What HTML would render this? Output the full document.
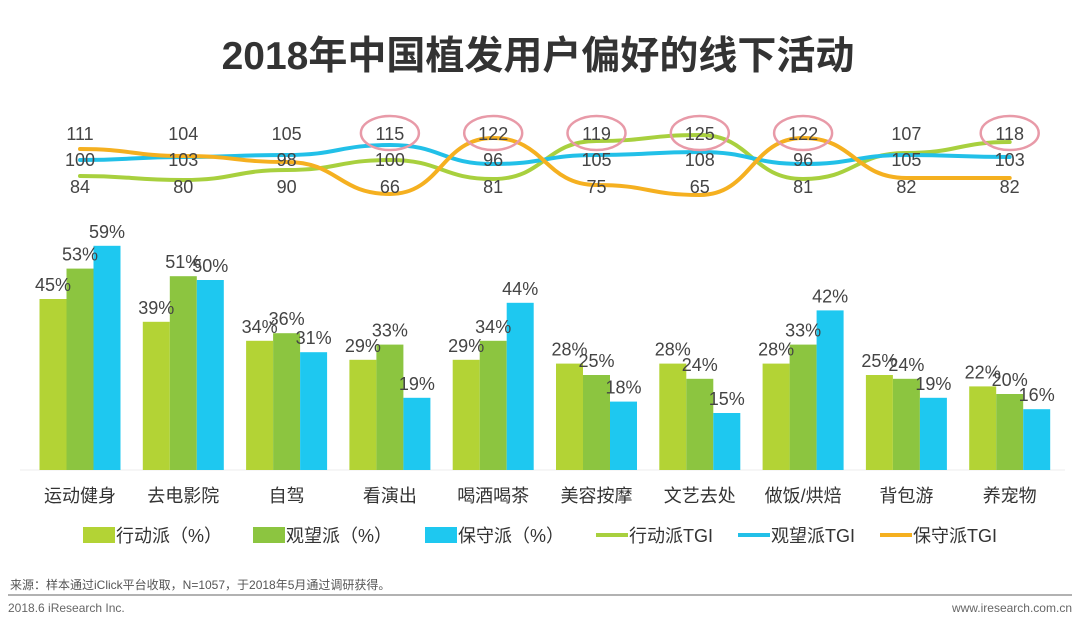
<!DOCTYPE html>
<html><head><meta charset="utf-8">
<style>
body{margin:0;background:#fff;}
svg{display:block;font-family:"Liberation Sans","Noto Sans CJK SC",sans-serif;}
</style></head>
<body>
<svg id="chart" width="1080" height="624" viewBox="0 0 1080 624">
<text x="538" y="69" text-anchor="middle" font-size="39" font-weight="bold" fill="#333">2018年中国植发用户偏好的线下活动</text>
<g id="bars"></g><g id="lines"></g><g id="labels"></g>
<g id="legend"></g>
<text x="10" y="589" font-size="12" fill="#555">来源：样本通过iClick平台收取，N=1057，于2018年5月通过调研获得。</text>
<line x1="8" y1="595" x2="1072" y2="595" stroke="#999" stroke-width="1.5"/>
<text x="8" y="612" font-size="12" fill="#666">2018.6 iResearch Inc.</text>
<text x="1072" y="612" font-size="12" fill="#666" text-anchor="end">www.iresearch.com.cn</text>
</svg>
<script>
const categories=["运动健身","去电影院","自驾","看演出","喝酒喝茶","美容按摩","文艺去处","做饭/烘焙","背包游","养宠物"];
const actionPct=[45,39,34,29,29,28,28,28,25,22];
const watchPct=[53,51,36,33,34,25,24,33,24,20];
const conservPct=[59,50,31,19,44,18,15,42,19,16];
const actionTGI=[84,80,90,100,81,119,125,81,107,118];
const watchTGI=[100,103,105,115,96,105,108,96,105,103];
const conservTGI=[111,104,98,66,122,75,65,122,82,82];
const highlighted=[[3,115],[4,122],[5,119],[6,125],[7,122],[9,118]];

const NS="http://www.w3.org/2000/svg";
const base=470, pxPerPct=3.8, bw=27;
const cx=i=>80+i*103.3;
const yBar=v=>base-v*pxPerPct;
const yTGI=v=>260-v;
const colors=["#b3d335","#8cc540","#1ec8f0"];
const lineColors=["#a8d03e","#22c0e8","#f5b020"];
function mk(tag,attrs,parent){const e=document.createElementNS(NS,tag);for(const k in attrs)e.setAttribute(k,attrs[k]);parent.appendChild(e);return e;}
const gB=document.getElementById('bars'),gL=document.getElementById('lines'),gT=document.getElementById('labels'),gLeg=document.getElementById('legend');
mk('line',{x1:20,y1:base,x2:1065,y2:base,stroke:'#eee','stroke-width':1},gB);
const series=[actionPct,watchPct,conservPct];
const snames=["action","watch","conserv"];
categories.forEach((c,i)=>{
  series.forEach((s,k)=>{
    const x=cx(i)-1.5*bw+k*bw;
    const r=mk('rect',{x:x,y:yBar(s[i]),width:bw,height:base-yBar(s[i]),fill:colors[k]},gB);
    
    
    const t=mk('text',{x:x+bw/2,y:yBar(s[i])-8,'text-anchor':'middle','font-size':18,fill:'#444'},gT);
    t.textContent=s[i]+'%';
    
    
  });
  const ct=mk('text',{x:cx(i),y:502,'text-anchor':'middle','font-size':18,fill:'#333'},gT);
  ct.textContent=c;
  
  
  const vals=[actionTGI[i],watchTGI[i],conservTGI[i]].slice().sort((a,b)=>b-a);
  const ys=[140,166,193];
  vals.forEach((v,j)=>{
    const t=mk('text',{x:cx(i),y:ys[j],'text-anchor':'middle','font-size':18,fill:'#444'},gT);
    t.textContent=v;
    
    
  });
});
[actionTGI,watchTGI,conservTGI].forEach((s,k)=>{
  const pts=s.map((v,i)=>[cx(i),yTGI(v)]);
  let d='M'+pts[0][0]+','+pts[0][1];
  for(let i=1;i<pts.length;i++){const [x0,y0]=pts[i-1],[x1,y1]=pts[i];const mx=(x0+x1)/2;d+=` C${mx},${y0} ${mx},${y1} ${x1},${y1}`;}
  const p=mk('path',{d:d,fill:'none',stroke:lineColors[k],'stroke-width':4,'stroke-linecap':'round'},gL);
  
  
});
highlighted.forEach(([i,v])=>{
  const e=mk('ellipse',{cx:cx(i),cy:133,rx:29,ry:17,fill:'none',stroke:'#e89aa8','stroke-width':2.5},gT);
  
  
});
const leg=[["行动派（%）",0,"box"],["观望派（%）",1,"box"],["保守派（%）",2,"box"],["行动派TGI",0,"line"],["观望派TGI",1,"line"],["保守派TGI",2,"line"]];
const lx=[83,253,425,596,738,880];
leg.forEach(([lab,k,type],j)=>{
  const g=mk('g',{},gLeg);
  
  
  if(type==='box')mk('rect',{x:lx[j],y:527,width:32,height:16,fill:colors[k]},g);
  else mk('line',{x1:lx[j],y1:535,x2:lx[j]+32,y2:535,stroke:lineColors[k],'stroke-width':4},g);
  const t=mk('text',{x:lx[j]+33,y:542,'font-size':18,fill:'#333'},g);
  t.textContent=lab;
});
</script>
</body></html>
